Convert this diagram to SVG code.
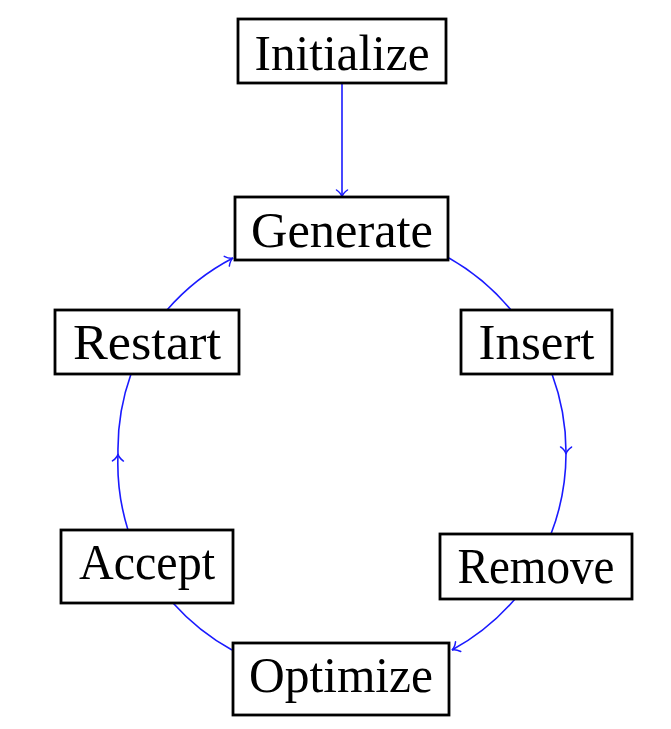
<svg xmlns="http://www.w3.org/2000/svg" width="671" height="729" viewBox="0 0 671 729">
<style>
.box{fill:#fff;stroke:#000;stroke-width:2.8}
.lbl{font-family:"Liberation Serif","Times New Roman",serif;font-size:50px;fill:#000;text-anchor:middle}
.edge{fill:none;stroke:#1a1aff;stroke-width:1.6}
</style>
<defs>
<marker id="to" markerUnits="userSpaceOnUse" markerWidth="16" markerHeight="16" viewBox="-9 -8 11 16" refX="0" refY="0" orient="auto">
<path d="M -7,-5.5 C -4.5,-2 -1.8,-0.4 0,0 C -1.8,0.4 -4.5,2 -7,5.5" fill="none" stroke="#1a1aff" stroke-width="1.5" stroke-linecap="round"/>
</marker>
</defs>
<g id="connectors">
<path class="edge" d="M 342,83 L 342,197" marker-end="url(#to)"/>
<path class="edge" d="M 449,258 A 224 224 0 0 1 511,310"/>
<path class="edge" d="M 552,374 A 224 224 0 0 1 566,454 A 224 224 0 0 1 551,534" marker-mid="url(#to)"/>
<path class="edge" d="M 515,599 A 224 224 0 0 1 452,650" marker-end="url(#to)"/>
<path class="edge" d="M 232,650 A 224 224 0 0 1 173,603"/>
<path class="edge" d="M 128,530 A 224 224 0 0 1 118,454 A 224 224 0 0 1 131,374" marker-mid="url(#to)"/>
<path class="edge" d="M 167,310 A 224 224 0 0 1 233,258" marker-end="url(#to)"/>
</g>
<g id="initialize"><rect class="box" x="238" y="19" width="208" height="64"/><text class="lbl" x="342" y="70" textLength="175" lengthAdjust="spacingAndGlyphs">Initialize</text></g>
<g id="generate"><rect class="box" x="235" y="197" width="213" height="63"/><text class="lbl" x="342" y="247" textLength="182" lengthAdjust="spacingAndGlyphs">Generate</text></g>
<g id="insert"><rect class="box" x="461" y="310" width="151" height="64"/><text class="lbl" x="536.5" y="359" textLength="116" lengthAdjust="spacingAndGlyphs">Insert</text></g>
<g id="restart"><rect class="box" x="55" y="310" width="184" height="64"/><text class="lbl" x="147" y="359" textLength="148" lengthAdjust="spacingAndGlyphs">Restart</text></g>
<g id="remove"><rect class="box" x="440" y="534" width="192" height="65"/><text class="lbl" x="536" y="583" textLength="157" lengthAdjust="spacingAndGlyphs">Remove</text></g>
<g id="accept"><rect class="box" x="61" y="530" width="172" height="73"/><text class="lbl" x="147" y="579" textLength="136" lengthAdjust="spacingAndGlyphs">Accept</text></g>
<g id="optimize"><rect class="box" x="233" y="643" width="216" height="72"/><text class="lbl" x="341" y="692" textLength="184" lengthAdjust="spacingAndGlyphs">Optimize</text></g>
</svg>
